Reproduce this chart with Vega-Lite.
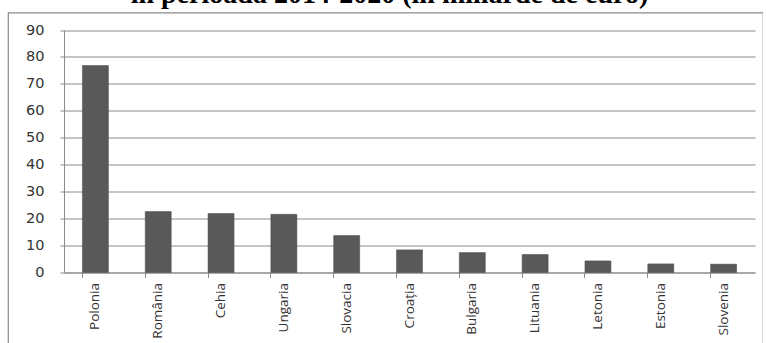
{
  "$schema": "https://vega.github.io/schema/vega-lite/v6.json",
  "autosize": {"type": "none"},
  "width": 755,
  "height": 340,
  "padding": {"left": 8, "top": 12.5, "right": 0, "bottom": 0},
  "background": "white",
  "title": {
    "text": "în perioada 2014-2020 (în miliarde de euro)",
    "font": "Liberation Serif",
    "fontSize": 28,
    "fontWeight": "bold",
    "color": "#000000",
    "anchor": "middle",
    "baseline": "alphabetic",
    "offset": 0,
    "dy": 18,
    "dx": 4
  },
  "config": {
    "view": {"stroke": "#8a8a8a", "strokeWidth": 1.2}
  },
  "data": {
    "values": [
      {"tara": "Polonia", "valoare": 76.8},
      {"tara": "România", "valoare": 22.6},
      {"tara": "Cehia", "valoare": 21.9},
      {"tara": "Ungaria", "valoare": 21.6},
      {"tara": "Slovacia", "valoare": 13.7},
      {"tara": "Croația", "valoare": 8.4},
      {"tara": "Bulgaria", "valoare": 7.4},
      {"tara": "Lituania", "valoare": 6.7},
      {"tara": "Letonia", "valoare": 4.3},
      {"tara": "Estonia", "valoare": 3.2},
      {"tara": "Slovenia", "valoare": 3.1}
    ]
  },
  "mark": {"type": "bar", "color": "#595959", "stroke": "#4a4a4a", "strokeWidth": 0.5},
  "encoding": {
    "x": {
      "field": "tara",
      "type": "nominal",
      "sort": null,
      "scale": {"range": [56, 747], "paddingInner": 0.586, "paddingOuter": 0.293},
      "axis": {
        "title": null,
        "orient": "bottom",
        "offset": -80,
        "bandPosition": 0,
        "grid": false,
        "domainColor": "#8a8a8a",
        "tickColor": "#8a8a8a",
        "tickSize": 5,
        "labelAngle": -90,
        "labelAlign": "right",
        "labelBaseline": "middle",
        "labelPadding": 5,
        "labelFont": "Open Sans",
        "labelFontSize": 13.5,
        "labelColor": "#333333"
      }
    },
    "y": {
      "field": "valoare",
      "type": "quantitative",
      "scale": {"domain": [0, 90], "nice": false, "range": [260, 17.5]},
      "axis": {
        "title": null,
        "orient": "left",
        "offset": -56,
        "values": [0, 10, 20, 30, 40, 50, 60, 70, 80, 90],
        "grid": true,
        "gridColor": "#8a8a8a",
        "gridWidth": 1,
        "domainColor": "#8a8a8a",
        "tickColor": "#8a8a8a",
        "tickSize": 4,
        "labelPadding": 16,
        "labelFont": "DejaVu Sans",
        "labelFontSize": 14.5,
        "labelColor": "#333333"
      }
    }
  }
}
